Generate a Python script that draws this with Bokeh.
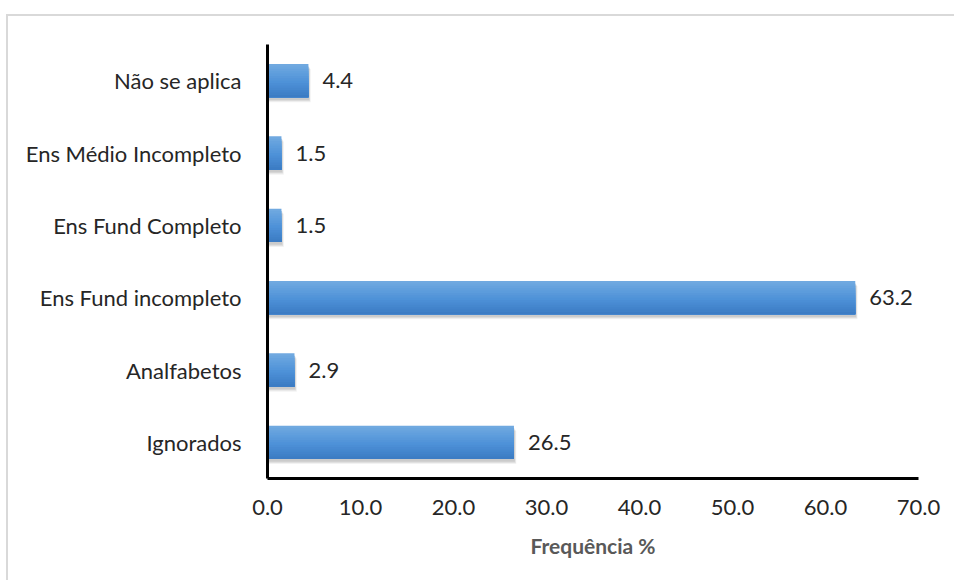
from bokeh.plotting import figure
from bokeh.models import ColumnDataSource, FactorRange, LabelSet
from bokeh.transform import dodge
from bokeh.core.properties import value
from bokeh.embed import file_html
from bokeh.resources import INLINE

# Escolaridade (frequência %)
categorias = ["Ignorados", "Analfabetos", "Ens Fund incompleto",
              "Ens Fund Completo", "Ens Médio Incompleto", "Não se aplica"]
frequencia = [26.5, 2.9, 63.2, 1.5, 1.5, 4.4]
ticks_x = [0, 10, 20, 30, 40, 50, 60, 70]

FONT = "Lato"
BAR_H = 0.46

source = ColumnDataSource(dict(
    cat=categorias,
    val=frequencia,
    lab=[f"{v:.1f}" for v in frequencia],
))

p = figure(
    width=948, height=566,
    y_range=FactorRange(*categorias, range_padding=0),
    x_range=(0, 70),
    output_backend="svg", toolbar_location=None,
    min_border_left=259, min_border_top=28,
    min_border_right=38, min_border_bottom=104,
    margin=(14, 0, 0, 6),
    background_fill_color="white", border_fill_color="white",
)
p.styles = {"border-top": "2px solid #d9d9d9", "border-left": "2px solid #d9d9d9"}
p.outline_line_color = None
p.xgrid.grid_line_color = None
p.ygrid.grid_line_color = None

# soft drop shadow under each bar
for dx, dy, a in [(0.25, -0.07, 0.05), (0.18, -0.055, 0.07), (0.1, -0.04, 0.09)]:
    p.hbar(y=dodge("cat", dy, range=p.y_range), left=0, right=dodge("val", dx),
           height=BAR_H, source=source, fill_color="black", fill_alpha=a, line_color=None)

# vertical gradient: each layer runs from its top edge to the bar's bottom,
# so later (darker) layers cover the lower part without seams
def mix(c1, c2, t):
    a = [int(c1[i:i + 2], 16) for i in (1, 3, 5)]
    b = [int(c2[i:i + 2], 16) for i in (1, 3, 5)]
    return "#" + "".join(f"{round(x + (y - x) * t):02x}" for x, y in zip(a, b))

N = 14
strip = BAR_H / N
for k in range(N):
    top = BAR_H / 2 - strip * k
    bottom = -BAR_H / 2
    t = k / (N - 1)
    col = mix("#70a9e0", "#4d91d8", t / 0.55) if t < 0.55 else mix("#4d91d8", "#3c7cc4", (t - 0.55) / 0.45)
    p.hbar(y=dodge("cat", (top + bottom) / 2, range=p.y_range), left=0, right="val",
           height=top - bottom, source=source, fill_color=col, line_color=None)

labels = LabelSet(x="val", y="cat", text="lab", source=source,
                  x_offset=14, text_align="left", text_baseline="middle",
                  text_font=value(FONT), text_font_size="22px", text_color="#262626")
p.add_layout(labels)

for ax in (p.xaxis, p.yaxis):
    ax.axis_line_color = "black"
    ax.axis_line_width = 3
    ax.major_tick_line_color = None
    ax.minor_tick_line_color = None
    ax.major_label_text_font = FONT
    ax.major_label_text_font_size = "22px"
    ax.major_label_text_color = "#262626"

p.xaxis.ticker = ticks_x
p.xaxis.major_label_overrides = {t: f"{t:.1f}" for t in ticks_x}
p.xaxis.major_label_standoff = 15
p.yaxis.major_label_standoff = 20

p.xaxis.axis_label = "Frequência %"
p.xaxis.axis_label_text_font = FONT
p.xaxis.axis_label_text_font_size = "21px"
p.xaxis.axis_label_text_font_style = "bold"
p.xaxis.axis_label_text_color = "#595959"
p.xaxis.axis_label_standoff = 15

open("out.html", "w").write(file_html(p, INLINE))
